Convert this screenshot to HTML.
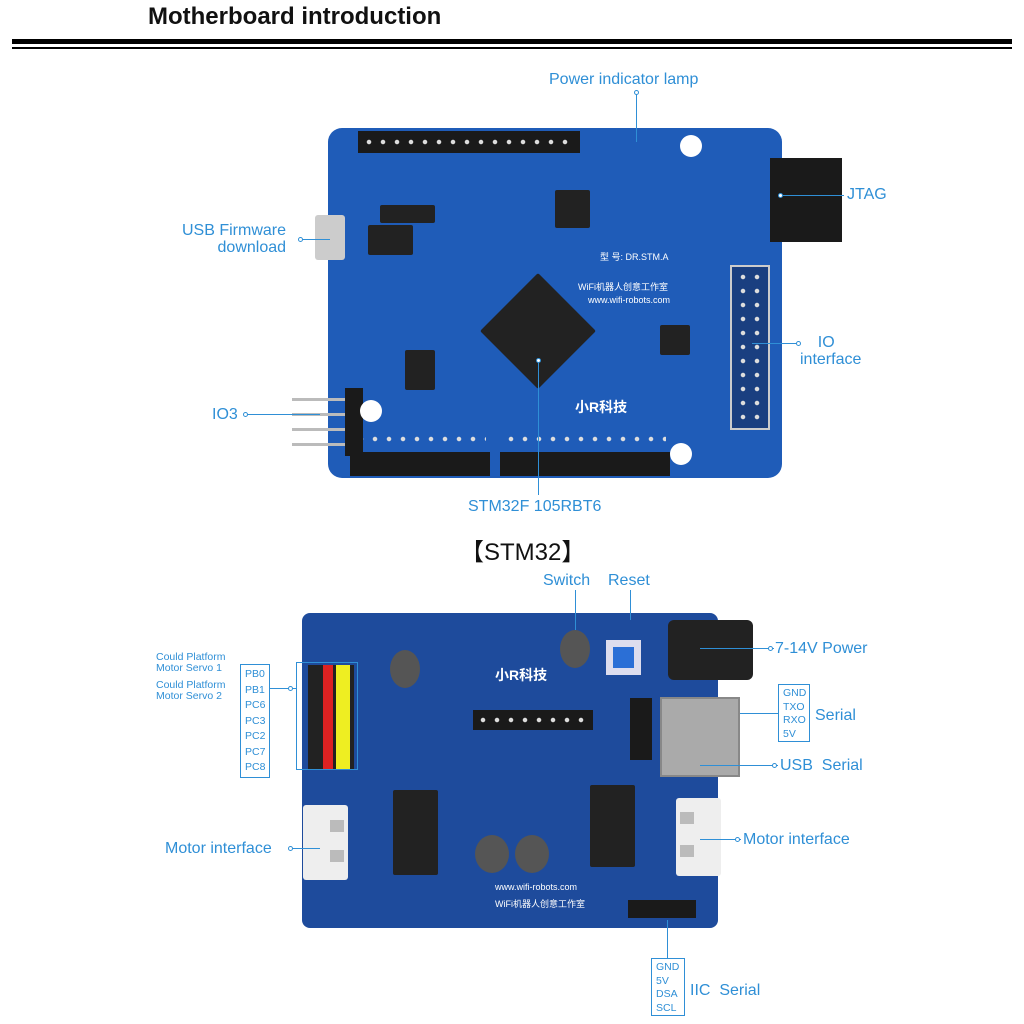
<!DOCTYPE html>
<html><head><meta charset="utf-8"><style>
*{margin:0;padding:0;box-sizing:border-box}
body{width:1024px;height:1024px;background:#fff;position:relative;overflow:hidden;font-family:"Liberation Sans","Noto Sans CJK SC",sans-serif}
.a{position:absolute}
.lbl{position:absolute;color:#2f8fd6;font-size:16px;white-space:nowrap;line-height:17px}
.sm{position:absolute;color:#2f8fd6;font-size:10.5px;line-height:11px;white-space:nowrap}
.box{position:absolute;border:1px solid #2f8fd6;color:#2f8fd6;font-size:10.5px;line-height:13.5px;padding:2px 4px}
.hdr{position:absolute;background:#1a1a1a}
.pins{position:absolute;background-image:radial-gradient(circle,#ddd 2px,transparent 2.5px);background-size:14px 14px}
.chip{position:absolute;background:#222;border-radius:2px}
.dot{position:absolute;width:5px;height:5px;border-radius:50%;border:1px solid #2f8fd6;background:#fff}
</style></head><body>
<div class="a" style="left:148px;top:3px;font-size:24px;font-weight:bold;color:#111">Motherboard introduction</div>
<div class="a" style="left:12px;top:39px;width:1000px;height:5px;background:#000"></div>
<div class="a" style="left:12px;top:47px;width:1000px;height:2px;background:#000"></div>

<!-- Board 1 -->
<div class="a" style="left:328px;top:128px;width:454px;height:350px;background:#1f5cb8;border-radius:14px"></div>
<div class="hdr" style="left:358px;top:131px;width:222px;height:22px"></div>
<div class="pins" style="left:362px;top:135px;width:214px;height:14px"></div>
<div class="hdr" style="left:350px;top:452px;width:140px;height:24px"></div>
<div class="pins" style="left:354px;top:432px;width:132px;height:14px"></div>
<div class="hdr" style="left:500px;top:452px;width:170px;height:24px"></div>
<div class="pins" style="left:504px;top:432px;width:162px;height:14px"></div>
<div class="hdr" style="left:770px;top:158px;width:72px;height:84px"></div>
<div class="a" style="left:730px;top:265px;width:40px;height:165px;border:2px solid #ccc;background:#1a3f80"></div>
<div class="pins" style="left:736px;top:270px;width:28px;height:154px"></div>
<div class="hdr" style="left:345px;top:388px;width:18px;height:68px"></div>
<div class="a" style="left:292px;top:398px;width:53px;height:3px;background:#bbb"></div>
<div class="a" style="left:292px;top:413px;width:53px;height:3px;background:#bbb"></div>
<div class="a" style="left:292px;top:428px;width:53px;height:3px;background:#bbb"></div>
<div class="a" style="left:292px;top:443px;width:53px;height:3px;background:#bbb"></div>
<div class="a" style="left:315px;top:215px;width:30px;height:45px;background:#ccc;border-radius:3px"></div>
<div class="chip" style="left:497px;top:290px;width:82px;height:82px;transform:rotate(45deg)"></div>
<div class="chip" style="left:368px;top:225px;width:45px;height:30px"></div>
<div class="chip" style="left:380px;top:205px;width:55px;height:18px"></div>
<div class="chip" style="left:555px;top:190px;width:35px;height:38px"></div>
<div class="chip" style="left:660px;top:325px;width:30px;height:30px"></div>
<div class="chip" style="left:405px;top:350px;width:30px;height:40px"></div>
<div class="a" style="left:680px;top:135px;width:22px;height:22px;border-radius:50%;background:#fff"></div>
<div class="a" style="left:670px;top:443px;width:22px;height:22px;border-radius:50%;background:#fff"></div>
<div class="a" style="left:360px;top:400px;width:22px;height:22px;border-radius:50%;background:#fff"></div>
<div class="a" style="left:588px;top:295px;color:#fff;font-size:9px">www.wifi-robots.com</div>
<div class="a" style="left:578px;top:280px;color:#fff;font-size:9px">WiFi机器人创意工作室</div>
<div class="a" style="left:600px;top:250px;color:#fff;font-size:9px">型 号: DR.STM.A</div>
<div class="a" style="left:575px;top:397px;color:#fff;font-size:14px;font-weight:bold">小R科技</div>

<!-- Board1 labels -->
<div class="lbl" style="left:549px;top:71px">Power indicator lamp</div>
<div class="a" style="left:636px;top:92px;width:1px;height:50px;background:#2f8fd6"></div>
<div class="dot" style="left:634px;top:90px"></div>
<div class="lbl" style="left:847px;top:186px">JTAG</div>
<div class="a" style="left:780px;top:195px;width:64px;height:1px;background:#2f8fd6"></div>
<div class="dot" style="left:778px;top:193px"></div>
<div class="lbl" style="left:182px;top:222px;text-align:right">USB Firmware<br>&nbsp;&nbsp;download</div>
<div class="a" style="left:300px;top:239px;width:30px;height:1px;background:#2f8fd6"></div>
<div class="dot" style="left:298px;top:237px"></div>
<div class="lbl" style="left:800px;top:334px">&nbsp;&nbsp;&nbsp;&nbsp;IO<br>interface</div>
<div class="a" style="left:752px;top:343px;width:46px;height:1px;background:#2f8fd6"></div>
<div class="dot" style="left:796px;top:341px"></div>
<div class="lbl" style="left:212px;top:406px">IO3</div>
<div class="a" style="left:245px;top:414px;width:75px;height:1px;background:#2f8fd6"></div>
<div class="dot" style="left:243px;top:412px"></div>
<div class="lbl" style="left:468px;top:498px">STM32F 105RBT6</div>
<div class="a" style="left:538px;top:360px;width:1px;height:135px;background:#2f8fd6"></div>
<div class="dot" style="left:536px;top:358px"></div>

<div class="a" style="left:460px;top:532px;font-size:24px;color:#111">【STM32】</div>

<!-- Board 2 -->
<div class="a" style="left:302px;top:613px;width:416px;height:315px;background:#1e4b9c;border-radius:8px"></div>
<div class="a" style="left:660px;top:697px;width:80px;height:80px;background:#aaa;border:2px solid #888"></div>
<div class="a" style="left:668px;top:620px;width:85px;height:60px;background:#222;border-radius:6px"></div>
<div class="a" style="left:606px;top:640px;width:35px;height:35px;background:#dde;"></div>
<div class="a" style="left:613px;top:647px;width:21px;height:21px;background:#2b6fd6"></div>
<div class="a" style="left:308px;top:665px;width:46px;height:105px;background:#222"></div>
<div class="a" style="left:323px;top:665px;width:10px;height:105px;background:#d22"></div>
<div class="a" style="left:336px;top:665px;width:14px;height:105px;background:#ee2"></div>
<div class="a" style="left:303px;top:805px;width:45px;height:75px;background:#eee;border-radius:3px"></div>
<div class="a" style="left:330px;top:820px;width:14px;height:12px;background:#bbb"></div>
<div class="a" style="left:330px;top:850px;width:14px;height:12px;background:#bbb"></div>
<div class="a" style="left:676px;top:798px;width:45px;height:78px;background:#eee;border-radius:3px"></div>
<div class="a" style="left:680px;top:812px;width:14px;height:12px;background:#bbb"></div>
<div class="a" style="left:680px;top:845px;width:14px;height:12px;background:#bbb"></div>
<div class="chip" style="left:393px;top:790px;width:45px;height:85px"></div>
<div class="chip" style="left:590px;top:785px;width:45px;height:82px"></div>
<div class="a" style="left:475px;top:835px;width:34px;height:38px;border-radius:50%;background:#555"></div>
<div class="a" style="left:515px;top:835px;width:34px;height:38px;border-radius:50%;background:#555"></div>
<div class="a" style="left:390px;top:650px;width:30px;height:38px;border-radius:50%;background:#555"></div>
<div class="a" style="left:560px;top:630px;width:30px;height:38px;border-radius:50%;background:#555"></div>
<div class="hdr" style="left:630px;top:698px;width:22px;height:62px"></div>
<div class="hdr" style="left:628px;top:900px;width:68px;height:18px"></div>
<div class="hdr" style="left:473px;top:710px;width:120px;height:20px"></div>
<div class="pins" style="left:476px;top:713px;width:114px;height:14px"></div>
<div class="a" style="left:495px;top:882px;color:#fff;font-size:9px">www.wifi-robots.com</div>
<div class="a" style="left:495px;top:897px;color:#fff;font-size:9px">WiFi机器人创意工作室</div>
<div class="a" style="left:495px;top:665px;color:#fff;font-size:14px;font-weight:bold">小R科技</div>

<!-- Board2 labels -->
<div class="lbl" style="left:543px;top:572px">Switch</div>
<div class="lbl" style="left:608px;top:572px">Reset</div>
<div class="a" style="left:575px;top:590px;width:1px;height:40px;background:#2f8fd6"></div>
<div class="a" style="left:630px;top:590px;width:1px;height:30px;background:#2f8fd6"></div>
<div class="lbl" style="left:775px;top:640px">7-14V Power</div>
<div class="a" style="left:700px;top:648px;width:74px;height:1px;background:#2f8fd6"></div>
<div class="dot" style="left:768px;top:646px"></div>
<div class="box" style="left:778px;top:684px;width:32px;height:58px">GND<br>TXO<br>RXO<br>5V</div>
<div class="lbl" style="left:815px;top:707px">Serial</div>
<div class="a" style="left:740px;top:713px;width:38px;height:1px;background:#2f8fd6"></div>
<div class="lbl" style="left:780px;top:757px">USB&nbsp; Serial</div>
<div class="a" style="left:700px;top:765px;width:78px;height:1px;background:#2f8fd6"></div>
<div class="dot" style="left:772px;top:763px"></div>
<div class="lbl" style="left:743px;top:831px">Motor interface</div>
<div class="a" style="left:700px;top:839px;width:41px;height:1px;background:#2f8fd6"></div>
<div class="dot" style="left:735px;top:837px"></div>
<div class="lbl" style="left:165px;top:840px">Motor interface</div>
<div class="a" style="left:290px;top:848px;width:30px;height:1px;background:#2f8fd6"></div>
<div class="dot" style="left:288px;top:846px"></div>
<div class="sm" style="left:156px;top:652px">Could Platform<br>Motor Servo 1</div>
<div class="sm" style="left:156px;top:680px">Could Platform<br>Motor Servo 2</div>
<div class="box" style="left:240px;top:664px;width:30px;height:114px;line-height:15.5px">PB0<br>PB1<br>PC6<br>PC3<br>PC2<br>PC7<br>PC8</div>
<div class="a" style="left:270px;top:688px;width:26px;height:1px;background:#2f8fd6"></div>
<div class="dot" style="left:288px;top:686px"></div>
<div class="a" style="left:296px;top:662px;width:62px;height:108px;border:1px solid #2f8fd6"></div>
<div class="box" style="left:651px;top:958px;width:34px;height:58px">GND<br>5V<br>DSA<br>SCL</div>
<div class="lbl" style="left:690px;top:982px">IIC&nbsp; Serial</div>
<div class="a" style="left:667px;top:920px;width:1px;height:38px;background:#2f8fd6"></div>
</body></html>
